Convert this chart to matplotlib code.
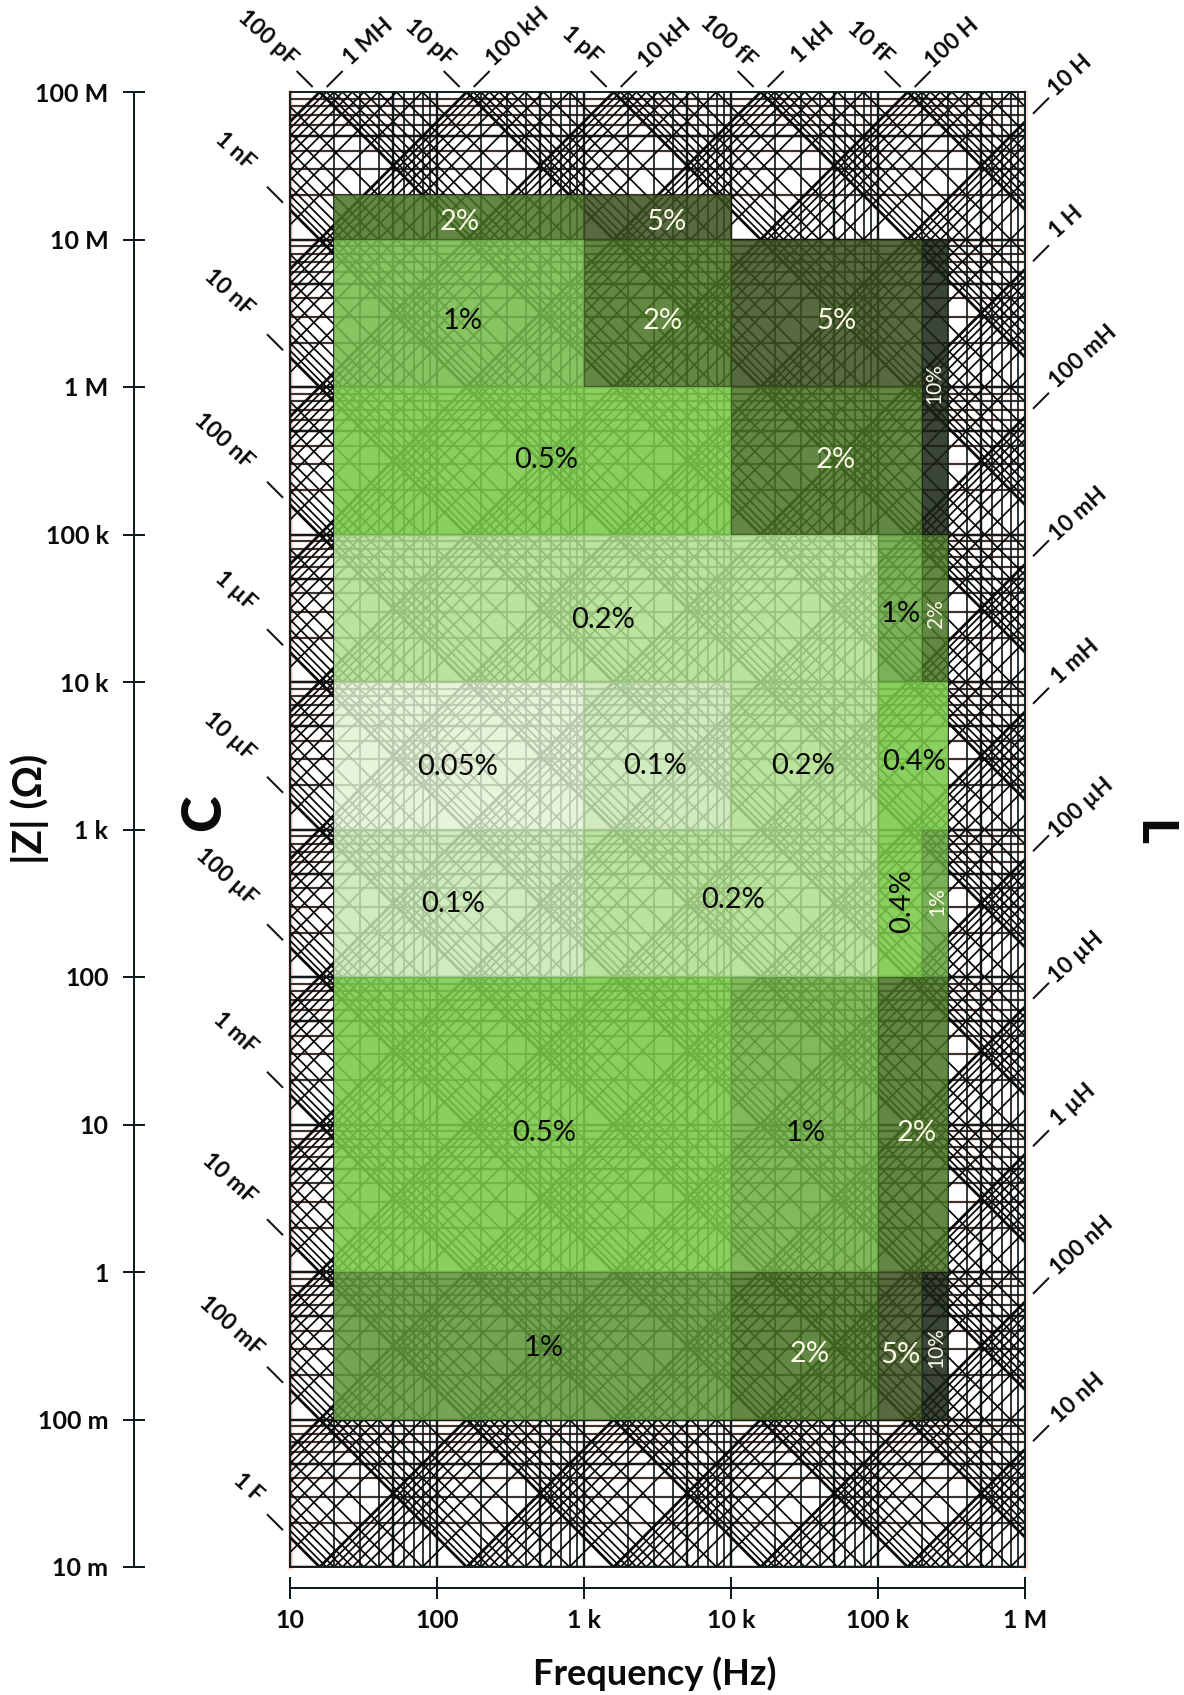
import numpy as np
import matplotlib
matplotlib.use('Agg')
import matplotlib.pyplot as plt
from matplotlib.patches import Rectangle
from matplotlib.ticker import FixedLocator, FixedFormatter, NullLocator

plt.rcParams['font.family'] = ['Lato', 'DejaVu Sans']

W, H = 1184, 1695
LEFT, RIGHT, TOP, BOTTOM = 290, 1025, 92, 1567

# axes
freq_ticks = [10, 100, 1e3, 1e4, 1e5, 1e6]
freq_labels = ['10', '100', '1 k', '10 k', '100 k', '1 M']
z_ticks = [1e-2, 1e-1, 1, 10, 100, 1e3, 1e4, 1e5, 1e6, 1e7, 1e8]
z_labels = ['10 m', '100 m', '1', '10', '100', '1 k', '10 k', '100 k', '1 M', '10 M', '100 M']

# accuracy map: one list per |Z| band
band_z = [(1e7, 2e7), (1e6, 1e7), (1e5, 1e6), (1e4, 1e5), (1e3, 1e4), (100, 1e3), (1, 100), (0.1, 1)]
band_edges = [
    [20, 1e3, 1e4],
    [20, 1e3, 1e4, 2e5, 3e5],
    [20, 1e4, 2e5, 3e5],
    [20, 1e5, 2e5, 3e5],
    [20, 1e3, 1e4, 1e5, 3e5],
    [20, 1e3, 1e5, 2e5, 3e5],
    [20, 1e4, 1e5, 3e5],
    [20, 1e4, 1e5, 2e5, 3e5],
]
band_acc = [
    ['2%', '5%'],
    ['1%', '2%', '5%', '10%'],
    ['0.5%', '2%', '10%'],
    ['0.2%', '1%', '2%'],
    ['0.05%', '0.1%', '0.2%', '0.4%'],
    ['0.1%', '0.2%', '0.4%', '1%'],
    ['0.5%', '1%', '2%'],
    ['1%', '2%', '5%', '10%'],
]
# the 1% cells are not quite the same green in every band
band_shade_1pc = [1, 1.1, 1, 1, 1, 1, 1.04, 0.93]

acc_colors = {
    '0.05%': (230, 245, 218), '0.1%': (208, 236, 190), '0.2%': (186, 228, 158),
    '0.4%': (138, 208, 96), '0.5%': (138, 208, 96), '1%': (124, 178, 90),
    '2%': (98, 136, 68), '5%': (88, 106, 64), '10%': (60, 70, 56),
}
acc_alpha = {'0.05%': 0.82, '0.1%': 0.84, '0.2%': 0.85, '0.4%': 0.88, '0.5%': 0.88,
             '1%': 0.87, '2%': 0.85, '5%': 0.85, '10%': 0.85}

# text on the map: label, x, y, rotation, size, colour
map_text = [
    ('2%', 460, 222, 0, 21, 'w'), ('5%', 666, 222, 0, 21, 'w'),
    ('1%', 463, 321, 0, 21, 'k'), ('2%', 663, 321, 0, 21, 'w'), ('5%', 836, 321, 0, 21, 'w'),
    ('10%', 934, 384, 90, 15, 'w'), ('0.5%', 546, 460, 0, 21, 'k'), ('2%', 836, 460, 0, 21, 'w'),
    ('0.2%', 603, 620, 0, 21, 'k'), ('1%', 901, 614, 0, 21, 'k'), ('2%', 936, 614, 90, 15, 'w'),
    ('0.05%', 458, 767, 0, 21, 'k'), ('0.1%', 655, 766, 0, 21, 'k'), ('0.2%', 803, 766, 0, 21, 'k'),
    ('0.4%', 914, 762, 0, 21, 'k'), ('0.1%', 453, 904, 0, 21, 'k'), ('0.2%', 733, 900, 0, 21, 'k'),
    ('0.4%', 902, 901, 90, 21, 'k'), ('1%', 937, 902, 90, 15, 'w'),
    ('0.5%', 544, 1133, 0, 21, 'k'), ('1%', 806, 1133, 0, 21, 'k'), ('2%', 917, 1133, 0, 21, 'w'),
    ('1%', 544, 1348, 0, 21, 'k'), ('2%', 810, 1354, 0, 21, 'w'), ('5%', 900, 1355, 0, 21, 'w'),
    ('10%', 936, 1348, 90, 15, 'w'),
]

# capacitance / inductance scale labels
top_c = [100e-12, 10e-12, 1e-12, 100e-15, 10e-15]
top_c_labels = ['100 pF', '10 pF', '1 pF', '100 fF', '10 fF']
top_c_xy = [(268, 38), (430, 43), (582, 45), (728, 41), (870, 43)]
top_l = [1e6, 1e5, 1e4, 1e3, 100]
top_l_labels = ['1 MH', '100 kH', '10 kH', '1 kH', '100 H']
top_l_xy = [(368, 42), (518, 37), (665, 43), (813, 43), (952, 43)]
left_c = [1e-9, 1e-8, 1e-7, 1e-6, 1e-5, 1e-4, 1e-3, 1e-2, 1e-1, 1]
left_c_labels = ['1 nF', '10 nF', '100 nF', '1 µF', '10 µF', '100 µF', '1 mF', '10 mF', '100 mF', '1 F']
left_c_xy = [(235, 151), (229, 293), (224, 441), (235, 591), (229, 736), (226, 877), (235, 1033),
             (229, 1179), (231, 1326), (248, 1488)]
right_l = [10, 1, 0.1, 0.01, 1e-3, 1e-4, 1e-5, 1e-6, 1e-7, 1e-8]
right_l_labels = ['10 H', '1 H', '100 mH', '10 mH', '1 mH', '100 µH', '10 µH', '1 µH', '100 nH', '10 nH']
right_l_xy = [(1070, 76), (1066, 222), (1083, 357), (1078, 514), (1075, 662), (1081, 808),
              (1076, 957), (1073, 1105), (1082, 1246), (1078, 1398)]

multipliers = [1, 2, 3, 4, 5, 6, 7, 8, 9]
l_decades = [10.0**k for k in range(-10, 8)]
c_decades = [10.0**k for k in range(-16, 2)]


def fx(px):
    return px / W


def fy(py):
    return 1 - py / H


fig = plt.figure(figsize=(W / 100, H / 100), dpi=100)
ax = fig.add_axes([fx(LEFT), fy(BOTTOM), (RIGHT - LEFT) / W, (BOTTOM - TOP) / H])
ax.set_xscale('log')
ax.set_yscale('log')
ax.set_xlim(10, 1e6)
ax.set_ylim(1e-2, 1e8)
ax.xaxis.set_major_locator(NullLocator())
ax.xaxis.set_minor_locator(NullLocator())
ax.yaxis.set_major_locator(NullLocator())
ax.yaxis.set_minor_locator(NullLocator())
for s in ax.spines.values():
    s.set_linewidth(1.4)
    s.set_color('#0f1c20')
    s.set_zorder(1)

line_col = '#10191c'
px = 0.72

# pale salmon halo round the horizontal lines
for dec in z_ticks[:-1]:
    for m in multipliers:
        ax.axhline(dec * m, color='#fde6dc', lw=4 * px, zorder=0.5)
ax.axvline(10, color='#fde0d4', lw=5 * px, zorder=0.5, clip_on=False)
ax.axvline(1e6, color='#fde0d4', lw=5 * px, zorder=0.5, clip_on=False)

# f and |Z| grid
for dec in freq_ticks[:-1]:
    for m in multipliers:
        lw = 2.4 if m in (1, 5) else 1.7
        ax.axvline(dec * m, color=line_col, lw=lw * px, zorder=1)
for dec in z_ticks[:-1]:
    for m in multipliers:
        lw = 2.4 if m in (1, 5) else 1.7
        ax.axhline(dec * m, color=line_col, lw=lw * px, zorder=1)

# constant L and constant C lines
f_line = np.array([10.0, 1e6])
for dec in l_decades:
    for m in multipliers:
        lw = 2.8 if m == 1 else 1.7
        ax.plot(f_line, 2 * np.pi * f_line * dec * m, color='#060606', lw=lw * px, zorder=1)
for dec in c_decades:
    for m in multipliers:
        lw = 2.8 if m == 1 else 1.7
        ax.plot(f_line, 1 / (2 * np.pi * f_line * dec * m), color='#060606', lw=lw * px, zorder=1)

# accuracy map
for (z0, z1), edges, accs, shade in zip(band_z, band_edges, band_acc, band_shade_1pc):
    for i, acc in enumerate(accs):
        a = acc_alpha[acc]
        t = np.array(acc_colors[acc]) / 255
        if acc == '1%':
            t = np.clip(t * shade, 0, 1)
        c = np.clip((t - (1 - a)) / a, 0, 1)
        ax.add_patch(Rectangle((edges[i], z0), edges[i + 1] - edges[i], z1 - z0,
                               facecolor=(*c, a), edgecolor='none', zorder=2))

# pixel overlay for text and the short scale ticks
ov = fig.add_axes([0, 0, 1, 1], facecolor='none')
ov.set_xlim(0, W)
ov.set_ylim(H, 0)
ov.axis('off')


def to_px(f, z):
    x, y = ax.transData.transform((f, z))
    return x, H - y


for label, x, y, rot, size, col in map_text:
    ov.text(x, y, label, rotation=rot, fontsize=size, ha='center', va='center',
            color='#fbf8e6' if col == 'w' else '#0a0a0a')

tick_kw = dict(color='#111111', lw=2 * px, solid_capstyle='butt')
label_kw = dict(fontsize=16.5, fontweight='bold', ha='center', va='center', color='#0a0a0a')

for c, name, xy in zip(top_c, top_c_labels, top_c_xy):
    x, y = to_px(1 / (2 * np.pi * 1e8 * c), 1e8)
    ov.plot([x - 23, x - 7], [y - 21, y - 5], **tick_kw)
    ov.text(*xy, name, rotation=-42, **label_kw)
for l, name, xy in zip(top_l, top_l_labels, top_l_xy):
    x, y = to_px(1e8 / (2 * np.pi * l), 1e8)
    ov.plot([x + 7, x + 23], [y - 5, y - 21], **tick_kw)
    ov.text(*xy, name, rotation=42, **label_kw)
for c, name, xy in zip(left_c, left_c_labels, left_c_xy):
    x, y = to_px(10, 1 / (2 * np.pi * 10 * c))
    ov.plot([x - 23, x - 7], [y - 23, y - 7], **tick_kw)
    ov.text(*xy, name, rotation=-42, **label_kw)
for l, name, xy in zip(right_l, right_l_labels, right_l_xy):
    x, y = to_px(1e6, 2 * np.pi * 1e6 * l)
    ov.plot([x + 8, x + 24], [y - 8, y - 24], **tick_kw)
    ov.text(*xy, name, rotation=42, **label_kw)

ov.text(30, 809, '|Z| (Ω)', rotation=90, fontsize=29, fontweight='bold', ha='center', va='center', color='#0a0a0a')
ov.text(204, 813, 'C', rotation=90, fontsize=40, fontweight='black', ha='center', va='center', color='#0a0a0a')
ov.text(1153, 833, 'L', rotation=-90, fontsize=36, fontweight='black', ha='center', va='center', color='#0a0a0a')
ov.text(655, 1674, 'Frequency (Hz)', fontsize=26, fontweight='bold', ha='center', va='center', color='#0a0a0a')

# separate |Z| scale on the left
ax_z = fig.add_axes([fx(134), fy(BOTTOM), 0.0005, (BOTTOM - TOP) / H], facecolor='none')
ax_z.set_yscale('log')
ax_z.set_ylim(1e-2, 1e8)
ax_z.set_xticks([])
ax_z.yaxis.set_major_locator(FixedLocator(z_ticks))
ax_z.yaxis.set_major_formatter(FixedFormatter(z_labels))
ax_z.yaxis.set_minor_locator(NullLocator())
ax_z.tick_params(axis='y', direction='inout', length=23 * px, width=2 * px, pad=14 * px, color='#0f1c20')
for t in ax_z.get_yticklabels():
    t.set_fontsize(18)
    t.set_fontweight('bold')
    t.set_color('#0a0a0a')
for side in ('top', 'right', 'bottom'):
    ax_z.spines[side].set_visible(False)
ax_z.spines['left'].set_linewidth(2 * px)
ax_z.spines['left'].set_color('#0f1c20')

# separate frequency scale below
ax_f = fig.add_axes([fx(LEFT), fy(1588), (RIGHT - LEFT) / W, 0.0005], facecolor='none')
ax_f.set_xscale('log')
ax_f.set_xlim(10, 1e6)
ax_f.set_yticks([])
ax_f.xaxis.set_major_locator(FixedLocator(freq_ticks))
ax_f.xaxis.set_major_formatter(FixedFormatter(freq_labels))
ax_f.xaxis.set_minor_locator(NullLocator())
ax_f.tick_params(axis='x', direction='inout', length=23 * px, width=2 * px, pad=9 * px, color='#0f1c20')
for t in ax_f.get_xticklabels():
    t.set_fontsize(18)
    t.set_fontweight('bold')
    t.set_color('#0a0a0a')
for side in ('top', 'right', 'left'):
    ax_f.spines[side].set_visible(False)
ax_f.spines['bottom'].set_linewidth(2 * px)
ax_f.spines['bottom'].set_color('#0f1c20')

fig.savefig('out.png', dpi=100)
